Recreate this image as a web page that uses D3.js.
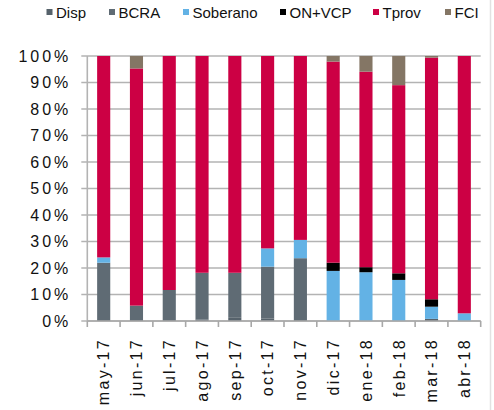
<!DOCTYPE html>
<html>
<head>
<meta charset="utf-8">
<script src="https://cdn.jsdelivr.net/npm/d3@7"></script>
<style>
  body { margin: 0; background: #fff; }
  svg { display: block; font-family: "Liberation Sans", Arial, sans-serif; }
</style>
</head>
<body>
<div id="chart"></div>
<script>
// months on the x axis
const months = ["may-17", "jun-17", "jul-17", "ago-17", "sep-17", "oct-17", "nov-17", "dic-17", "ene-18", "feb-18", "mar-18", "abr-18"];

// share of each holder, in %
const disp     = [0, 0, 0, 0.6, 1.2, 1, 0, 0, 0, 0, 0.8, 0];
const bcra     = [22, 5.8, 11.7, 17.6, 17, 19.5, 23.7, 0, 0, 0, 0, 0];
const soberano = [2, 0, 0, 0, 0, 6.9, 6.9, 18.9, 18.4, 15.5, 4.6, 2.9];
const onvcp    = [0, 0, 0, 0, 0, 0, 0, 3.1, 1.9, 2.5, 2.8, 0];
const tprov    = [76, 89.5, 88.3, 81.8, 81.8, 72.6, 69.4, 75.9, 73.8, 71, 91.2, 97.1];
const fci      = [0, 4.7, 0, 0, 0, 0, 0, 2.1, 5.9, 11, 0.6, 0];

const seriesNames = ["Disp", "BCRA", "Soberano", "ON+VCP", "Tprov", "FCI"];
const yTicks = [0, 0.1, 0.2, 0.3, 0.4, 0.5, 0.6, 0.7, 0.8, 0.9, 1];

const colors = {
  "Disp": "#56626b",
  "BCRA": "#5f6b74",
  "Soberano": "#63b2e5",
  "ON+VCP": "#000000",
  "Tprov": "#cc0044",
  "FCI": "#847665"
};

const rows = months.map((m, i) => ({
  month: m,
  "Disp": disp[i],
  "BCRA": bcra[i],
  "Soberano": soberano[i],
  "ON+VCP": onvcp[i],
  "Tprov": tprov[i],
  "FCI": fci[i]
}));

const W = 494, H = 410;
const margin = { top: 56, right: 13.3, bottom: 89, left: 87.3 };
const width = W - margin.left - margin.right;
const height = H - margin.top - margin.bottom;

const svg = d3.select("#chart").append("svg")
  .attr("width", W)
  .attr("height", H);

// thin border on the right edge
svg.append("line")
  .attr("x1", 490.5).attr("x2", 490.5)
  .attr("y1", 0).attr("y2", H)
  .attr("stroke", "#e2e2e2").attr("stroke-width", 1.5);

const g = svg.append("g")
  .attr("transform", "translate(" + margin.left + "," + margin.top + ")");

const x = d3.scaleBand()
  .domain(months)
  .range([0, width])
  .paddingInner(0.6)
  .paddingOuter(0.3);

const y = d3.scaleLinear().domain([0, 1]).range([height, 0]);

// gridlines (extend left past the axis like tick marks)
g.append("g")
  .selectAll("line")
  .data(yTicks)
  .join("line")
  .attr("x1", -6).attr("x2", width)
  .attr("y1", d => y(d)).attr("y2", d => y(d))
  .attr("stroke", "#b3b3b3")
  .attr("stroke-width", 1.6);

// y axis line
g.append("line")
  .attr("x1", 0).attr("x2", 0)
  .attr("y1", 0).attr("y2", height)
  .attr("stroke", "#b3b3b3").attr("stroke-width", 1.6);

// y labels
g.append("g")
  .selectAll("text")
  .data(yTicks)
  .join("text")
  .attr("x", -16)
  .attr("y", d => y(d))
  .attr("dy", "0.36em")
  .attr("text-anchor", "end")
  .style("font-size", "16px")
  .style("letter-spacing", "3px")
  .attr("fill", "#111")
  .text(d => d3.format(".0%")(d));

// bars
const stack = d3.stack().keys(seriesNames).offset(d3.stackOffsetExpand);
const layers = stack(rows);

g.append("g")
  .selectAll("g")
  .data(layers)
  .join("g")
  .attr("fill", d => colors[d.key])
  .selectAll("rect")
  .data(d => d)
  .join("rect")
  .attr("x", d => x(d.data.month))
  .attr("y", d => y(d[1]))
  .attr("width", x.bandwidth())
  .attr("height", d => Math.max(0, y(d[0]) - y(d[1])));

// x axis line + tick marks at band boundaries
g.append("line")
  .attr("x1", 0).attr("x2", width)
  .attr("y1", height).attr("y2", height)
  .attr("stroke", "#a8a8a8").attr("stroke-width", 1.6);

const step = x.step();
g.append("g")
  .selectAll("line")
  .data(d3.range(months.length + 1))
  .join("line")
  .attr("x1", i => i * step).attr("x2", i => i * step)
  .attr("y1", height).attr("y2", height + 6)
  .attr("stroke", "#a8a8a8").attr("stroke-width", 1.6);

// x labels, rotated
g.append("g")
  .selectAll("text")
  .data(months)
  .join("text")
  .attr("transform", d => "translate(" + (x(d) + x.bandwidth() / 2) + "," + (height + 17) + ") rotate(-90)")
  .attr("dy", "0.36em")
  .attr("text-anchor", "end")
  .style("font-size", "16px")
  .style("letter-spacing", "2.3px")
  .attr("fill", "#111")
  .text(d => d);

// legend
const legendX = [46.5, 109, 183, 280, 373, 445];
const legend = svg.append("g")
  .selectAll("g")
  .data(seriesNames)
  .join("g")
  .attr("transform", (d, i) => "translate(" + legendX[i] + ",0)");

legend.append("rect")
  .attr("x", 0).attr("y", 9)
  .attr("width", 6).attr("height", 6)
  .attr("fill", d => colors[d]);

legend.append("text")
  .attr("x", 9.5)
  .attr("y", 18)
  .style("font-size", "15px")
  .attr("fill", "#111")
  .text(d => d);
</script>
</body>
</html>
